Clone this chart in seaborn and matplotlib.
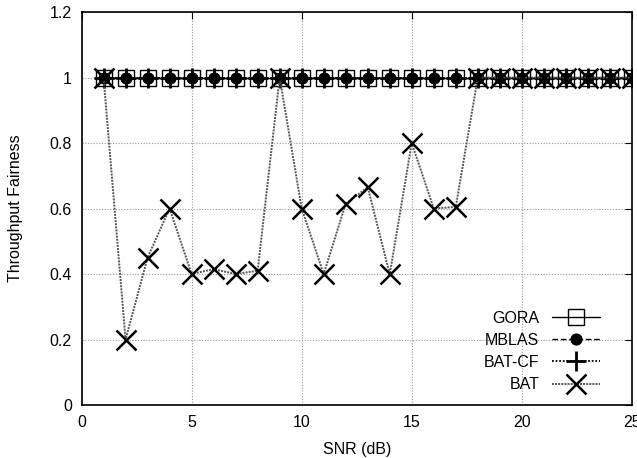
import matplotlib
matplotlib.use("Agg")
import matplotlib.pyplot as plt
import seaborn as sns
import pandas as pd

snr = list(range(1, 26))
gora = [1.0] * 25
mblas = [1.0] * 25
batcf = [1.0] * 25
bat = [1.0, 0.2, 0.45, 0.6, 0.4, 0.415, 0.4, 0.41, 1.0, 0.6, 0.4, 0.615, 0.665,
       0.4, 0.8, 0.6, 0.605, 1.0, 1.0, 1.0, 1.0, 1.0, 1.0, 1.0, 1.0]
xticks = [0, 5, 10, 15, 20, 25]
yticks = [0, 0.2, 0.4, 0.6, 0.8, 1.0, 1.2]
ytick_labels = ["0", "0.2", "0.4", "0.6", "0.8", "1", "1.2"]

sns.set_style("white")
plt.rcParams['font.family'] = ['Liberation Sans', 'DejaVu Sans']
plt.rcParams['text.color'] = 'black'
plt.rcParams['axes.labelcolor'] = 'black'
plt.rcParams['xtick.color'] = 'black'
plt.rcParams['ytick.color'] = 'black'

fig = plt.figure(figsize=(6.37, 4.58), dpi=100)
ax = fig.add_axes([0.128, 0.1157, 0.864, 0.858])

sns.lineplot(x=snr, y=gora, ax=ax, color='black', linestyle='-', linewidth=1,
             marker='s', markersize=11, markerfacecolor='none', markeredgecolor='black',
             markeredgewidth=1, label='GORA')
sns.lineplot(x=snr, y=mblas, ax=ax, color='black', linestyle=(0, (4, 2)), linewidth=1,
             marker='o', markersize=8, markerfacecolor='black', markeredgecolor='black',
             label='MBLAS')
sns.lineplot(x=snr, y=batcf, ax=ax, color='black', linestyle=(0, (1, 1)), linewidth=1.3,
             marker='+', markersize=14, markeredgewidth=2, markeredgecolor='black',
             label='BAT-CF')
sns.lineplot(x=snr, y=bat, ax=ax, color='#555555', linestyle=(0, (1, 0.6)), linewidth=1.4,
             marker='x', markersize=15, markeredgewidth=1.8, markeredgecolor='black',
             label='BAT')

ax.set_xlim(0, 25)
ax.set_ylim(0, 1.2)
ax.set_xticks(xticks)
ax.set_yticks(yticks)
ax.set_yticklabels(ytick_labels)
ax.set_xlabel('SNR (dB)', fontsize=11.5, labelpad=9, color='black')
ax.set_ylabel('Throughput Fairness', fontsize=11.5, labelpad=19, color='black')
ax.tick_params(direction='in', length=5, top=True, right=True, labelsize=11.5,
               color='black', labelcolor='black', pad=7)
ax.grid(True, color='#999999', linestyle=(0, (1, 1.5)), linewidth=0.8)
for s in ax.spines.values():
    s.set_color('black')
    s.set_linewidth(1.2)

leg = ax.legend(loc='lower right', frameon=False, markerfirst=False, fontsize=11.5,
                handlelength=3.0, labelspacing=0.45, borderaxespad=0.4,
                bbox_to_anchor=(0.965, 0.0), labelcolor='black')

fig.savefig('out.png', dpi=100)
